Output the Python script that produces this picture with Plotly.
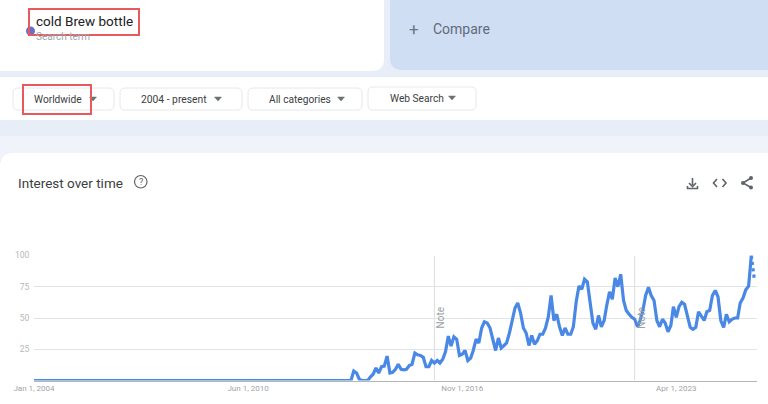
import pandas as pd
import plotly.graph_objects as go

W, H = 768, 404

# ---------- data (monthly, Google Trends style index) ----------
start_month = "2004-01-01"
leading_zero_months = 115
values = [
    7.5, 6, 1, 0, 0, 0, 3, 5, 10, 6, 11, 11.5, 19.5, 6, 6.5, 9, 13, 9, 8.5, 9, 12, 13, 22,
    20.5, 20, 18.5, 11, 11, 16, 14, 16, 14, 17, 23, 35.5, 27.5, 35, 33, 20, 21, 24, 16, 18,
    24, 33, 30, 42, 47, 46, 42, 33, 24, 34, 26, 28, 30, 38, 47, 58, 62, 54, 42, 38, 28, 36,
    29, 32, 37, 37, 42, 51, 68, 48, 53, 43, 36, 42, 37, 37, 43, 63, 75.5, 73, 81, 79, 62,
    46, 41, 52, 43, 48, 60, 71, 65, 82, 75, 85, 64, 56, 53, 50.5, 49, 43, 48, 56, 68, 74.5,
    68, 64, 48, 43, 49, 46, 39, 44, 59, 50.5, 59, 62.5, 61, 51, 42.5, 41, 42.5, 55, 51, 48,
    55, 56, 68, 72, 67, 48, 42.5, 53, 47, 49, 50, 50, 62, 66, 72.5, 75.5, 100,
]
partial_value = 82
tick_dates = ["2004-01-01", "2010-06-01", "2016-11-01", "2023-04-01"]
y_ticks = [25, 50, 75, 100]
note_dates = ["2016-01-01", "2022-01-01"]
filters = ["2004 - present", "All categories", "Web Search"]

full = [0] * leading_zero_months + values
dates = pd.date_range(start_month, periods=len(full), freq="MS")
partial_dates = pd.date_range(dates[-1], periods=2, freq="MS")
end_range = dates[-1] + pd.Timedelta(days=62)

# ---------- helpers for page furniture, in page pixels ----------
px = lambda v: v / W
py = lambda v: 1 - v / H
shapes, notes = [], []


def box(x0, y0, x1, y1, fill="white", line=None, lw=1, r=0, layer="below"):
    if r:
        path = (f"M{px(x0+r)},{py(y0)} L{px(x1-r)},{py(y0)} Q{px(x1)},{py(y0)} {px(x1)},{py(y0+r)} "
                f"L{px(x1)},{py(y1-r)} Q{px(x1)},{py(y1)} {px(x1-r)},{py(y1)} "
                f"L{px(x0+r)},{py(y1)} Q{px(x0)},{py(y1)} {px(x0)},{py(y1-r)} "
                f"L{px(x0)},{py(y0+r)} Q{px(x0)},{py(y0)} {px(x0+r)},{py(y0)} Z")
        shapes.append(dict(type="path", path=path, xref="paper", yref="paper", fillcolor=fill,
                           line=dict(color=line or "rgba(0,0,0,0)", width=lw), layer=layer))
    else:
        shapes.append(dict(type="rect", xref="paper", yref="paper", x0=px(x0), x1=px(x1), y0=py(y0), y1=py(y1),
                           fillcolor=fill, line=dict(color=line or "rgba(0,0,0,0)", width=lw), layer=layer))


def poly(points, fill=None, color="#5f6368", lw=1.6, close=False):
    p = "M" + " L".join(f"{px(a)},{py(b)}" for a, b in points) + (" Z" if close else "")
    shapes.append(dict(type="path", path=p, xref="paper", yref="paper",
                       fillcolor=fill or "rgba(0,0,0,0)", line=dict(color=color, width=lw), layer="above"))


def label(x, y, text, size, color, anchor="left", font="Roboto"):
    notes.append(dict(xref="paper", yref="paper", x=px(x), y=py(y), text=text, showarrow=False,
                      xanchor=anchor, yanchor="middle", borderpad=0, borderwidth=0,
                      font=dict(size=size, color=color, family=font)))


def triangle(cx, cy, color="#6b7075"):
    poly([(cx - 3.5, cy - 2), (cx + 3.5, cy - 2), (cx, cy + 2)], fill=color, color=color, lw=0.5, close=True)


# cards
box(-10, 136, 778, 160, fill="#f0f3f9")
box(-10, -10, 384, 71, r=12)
box(390, -10, 778, 70, fill="#d0def3", r=12)
box(-10, 77, 778, 120)
box(0, 153, 790, 420, r=14)

# search term
label(36, 21, "cold Brew bottle", 13.5, "#202124")
label(36, 37, "Search term", 10, "#a0a4a8")
shapes.append(dict(type="circle", xref="paper", yref="paper", x0=px(26), x1=px(35), y0=py(35.5), y1=py(26.5),
                   fillcolor="#6a70c8", line=dict(width=0), layer="above"))
box(29, 9, 139, 35, fill="rgba(0,0,0,0)", line="#e8595e", lw=2, layer="above")

# compare
label(409, 29.5, "+", 17, "#6b7785")
label(433, 29.5, "Compare", 14, "#5f6b7a")

# filter buttons
box(13, 88, 114, 110, line="#e6e8ea", r=5)
box(120, 88, 242, 110, line="#e6e8ea", r=5)
box(248, 88, 362, 110, line="#e6e8ea", r=5)
box(368, 87, 476, 110, line="#e6e8ea", r=5)
label(34, 99.5, "Worldwide", 10.2, "#3c4043")
label(141, 99.5, filters[0], 10.3, "#3c4043")
label(269, 99.5, filters[1], 10.2, "#3c4043")
label(390, 98.5, filters[2], 10.2, "#3c4043")
for cx, cy in [(93, 99), (218, 99), (341, 99), (452, 98)]:
    triangle(cx, cy)
box(23, 85, 91, 114, fill="rgba(0,0,0,0)", line="#e8595e", lw=2, layer="above")

# card title and icons
label(18, 183, "Interest over time", 13.5, "#3c4043")
shapes.append(dict(type="circle", xref="paper", yref="paper", x0=px(134.5), x1=px(147), y0=py(188), y1=py(175.5),
                   fillcolor="rgba(0,0,0,0)", line=dict(color="#5f6368", width=1.2), layer="above"))
label(140.7, 182, "?", 9, "#5f6368", anchor="center")
# download
poly([(692.5, 178), (692.5, 185)])
poly([(689, 183), (692.5, 186.5), (696, 183)])
poly([(687.5, 186), (687.5, 188.5), (697.5, 188.5), (697.5, 186)])
# embed
poly([(717, 179), (713.5, 183), (717, 187)])
poly([(722.5, 179), (726, 183), (722.5, 187)])
# share
poly([(751, 178), (743, 183), (751, 187.5)])
for cx, cy in [(751, 178), (743, 183), (751, 187.5)]:
    shapes.append(dict(type="circle", xref="paper", yref="paper", x0=px(cx - 2), x1=px(cx + 2), y0=py(cy + 2), y1=py(cy - 2),
                       fillcolor="#5f6368", line=dict(width=0), layer="above"))

# note markers, on the chart's own date axis
for d in note_dates:
    shapes.append(dict(type="line", xref="x", yref="y", x0=d, x1=d, y0=0, y1=100,
                       line=dict(color="#dadce0", width=1), layer="below"))
    notes.append(dict(xref="x", yref="y", x=d, y=50, xshift=6, text="Note", textangle=-90, showarrow=False,
                      font=dict(size=10, color="#9aa0a6", family="Roboto")))

fig = go.Figure()
fig.add_trace(go.Scatter(x=dates, y=full, mode="lines", cliponaxis=False, hoverinfo="skip",
                         line=dict(color="#4a88e6", width=3.2), showlegend=False))
fig.add_trace(go.Scatter(x=partial_dates, y=[full[-1], partial_value], mode="lines", cliponaxis=False, hoverinfo="skip",
                         line=dict(color="#4a88e6", width=3.2, dash="dot"), showlegend=False))

fig.update_layout(
    width=W, height=H, autosize=False,
    margin=dict(l=0, r=0, t=0, b=0, pad=0, autoexpand=False),
    paper_bgcolor="#e8eef8", plot_bgcolor="rgba(0,0,0,0)",
    shapes=shapes, annotations=notes,
    font=dict(family="Roboto"),
    xaxis=dict(domain=[px(34), px(757)], range=[start_month, end_range], type="date",
               tickmode="array", tickvals=tick_dates, tickformat="%b %-d, %Y",
               tickfont=dict(size=8, color="#a0a4a8"), showgrid=False, zeroline=False,
               showline=True, linecolor="#b4b6b8", linewidth=1, ticks="", ticklen=0),
    yaxis=dict(domain=[1 - 380.5 / H, 1 - 255.5 / H], range=[0, 100], tickmode="array", tickvals=y_ticks,
               tickfont=dict(size=8.5, color="#b4b8bc"), gridcolor="#e2e3e5", gridwidth=1, zeroline=False,
               showline=False, ticks="outside", ticklen=2, tickcolor="rgba(0,0,0,0)"),
)

fig.write_html("out.html", config=dict(displayModeBar=False, responsive=False),
               post_script="document.body.style.margin='0';document.documentElement.style.overflow='hidden';")
